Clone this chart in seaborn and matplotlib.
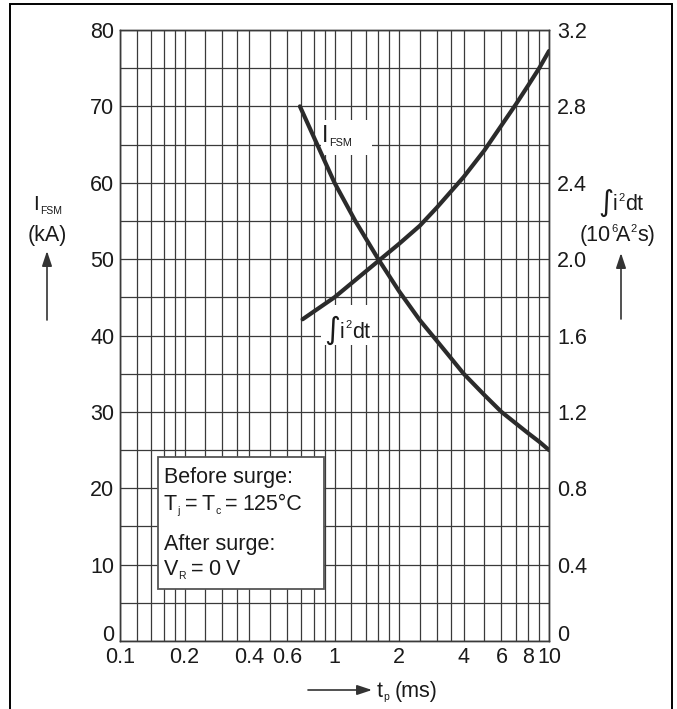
import numpy as np
import pandas as pd
import matplotlib
matplotlib.use("Agg")
import matplotlib.pyplot as plt
import seaborn as sns
from matplotlib.patches import Rectangle

# ---------------- data ----------------
t_ifsm = [0.69, 0.84, 1.0, 1.25, 1.6, 2.0, 2.5, 3.0, 3.5, 4.0, 5.0, 6.0, 7.0, 8.0, 9.0, 10.0]
ifsm_kA = [70.0, 64.7, 60.0, 55.0, 50.0, 45.8, 42.0, 39.3, 37.0, 35.0, 32.2, 30.0, 28.5, 27.2, 26.1, 25.0]

t_i2t = [0.71, 1.0, 1.6, 2.0, 2.5, 3.0, 4.0, 5.0, 6.0, 7.0, 8.0, 9.0, 10.0]
i2t_MA2s = [1.685, 1.80, 1.99, 2.08, 2.175, 2.27, 2.43, 2.57, 2.70, 2.81, 2.91, 3.0, 3.09]

x_grid = [0.1, 0.12, 0.14, 0.16, 0.18, 0.2, 0.25, 0.3, 0.35, 0.4, 0.5, 0.6, 0.7, 0.8, 0.9,
          1, 1.2, 1.4, 1.6, 1.8, 2, 2.5, 3, 3.5, 4, 5, 6, 7, 8, 9, 10]
x_labels = {0.1: "0.1", 0.2: "0.2", 0.4: "0.4", 0.6: "0.6", 1: "1", 2: "2",
            4: "4", 6: "6", 8: "8", 10: "10"}
y_left_grid = list(range(0, 81, 5))
y_left_ticks = list(range(0, 81, 10))
y_left_labels = ["0", "10", "20", "30", "40", "50", "60", "70", "80"]
y_right_ticks = [0, 0.4, 0.8, 1.2, 1.6, 2.0, 2.4, 2.8, 3.2]
y_right_labels = ["0", "0.4", "0.8", "1.2", "1.6", "2.0", "2.4", "2.8", "3.2"]

# ---------------- style ----------------
sns.set_style("white")
plt.rcParams['font.family'] = ['Liberation Sans', 'DejaVu Sans']

W, H = 677, 709
fig = plt.figure(figsize=(W / 100, H / 100), dpi=100)
fig.patch.set_facecolor("white")
renderer = fig.canvas.get_renderer()

L, R, T, B = 120, 549, 30, 641
ax = fig.add_axes([L / W, 1 - B / H, (R - L) / W, (B - T) / H])
ax2 = ax.twinx()

grid_c = "#3a3a3a"
curve_c = "#2b2b2b"
txt_c = "#1a1a1a"
fs = 15.5
sub = 7.5

df1 = pd.DataFrame({"t": t_ifsm, "v": ifsm_kA})
df2 = pd.DataFrame({"t": t_i2t, "v": i2t_MA2s})

sns.lineplot(data=df1, x="t", y="v", ax=ax, color=curve_c, lw=3.0, zorder=5)
sns.lineplot(data=df2, x="t", y="v", ax=ax2, color=curve_c, lw=3.0, zorder=5)

ax.set_xscale("log")
ax.set_xlim(0.1, 10)
ax.set_ylim(0, 80)
ax2.set_ylim(0, 3.2)

for x in x_grid:
    ax.axvline(x, color=grid_c, lw=0.9, zorder=1)
for y in y_left_grid:
    ax.axhline(y, color=grid_c, lw=0.9, zorder=1)

ax.set_xticks(x_grid)
ax.set_xticklabels([x_labels.get(x, "") for x in x_grid])
ax.xaxis.set_minor_locator(matplotlib.ticker.NullLocator())
ax.set_yticks(y_left_ticks)
ax.set_yticklabels(y_left_labels)
ax2.set_yticks(y_right_ticks)
ax2.set_yticklabels(y_right_labels)

ax.tick_params(axis="x", length=0, pad=4, labelsize=fs, colors=txt_c)
ax.tick_params(axis="y", length=0, pad=4, labelsize=fs, colors=txt_c)
ax2.tick_params(axis="y", length=0, pad=6, labelsize=fs, colors=txt_c)
ax.get_yticklabels()[0].set_va("baseline")
ax2.get_yticklabels()[0].set_va("baseline")
ax.set_xlabel("")
ax.set_ylabel("")
ax2.set_ylabel("")

for a in (ax, ax2):
    for s in a.spines.values():
        s.set_color(grid_c)
        s.set_linewidth(1.0)


# ---------------- text helpers (figure pixels, top-left origin) ----------------
def ft(x, y, s, size, parent=None, ha="left", zorder=3, family=None):
    kw = dict(fontsize=size, ha=ha, va="baseline", color=txt_c, zorder=zorder)
    if family:
        kw["family"] = family
    if parent is None:
        return fig.text(x / W, 1 - y / H, s, **kw)
    return parent.text(x / W, 1 - y / H, s, transform=fig.transFigure, **kw)


def chain(x, y, pieces, parent=None, zorder=3):
    """pieces: (text, size, dy, gap_after, family)"""
    cx = x
    for s, size, dy, gap, fam in pieces:
        t = ft(cx, y + dy, s, size, parent=parent, zorder=zorder, family=fam)
        cx += t.get_window_extent(renderer).width + gap
    return cx


INT = ["DejaVu Sans"]

# left axis title
chain(33, 210, [("I", 15, 0, 1, None), ("FSM", sub, 4, 0, None)])
ft(47, 241, "(kA)", fs, ha="center")

# right axis title
chain(598, 211, [("∫", 21, 0, 0, INT), ("i", fs, -1, 0.5, None), ("2", 8, -10, 0.5, None),
                 ("dt", fs, -1, 0, None)])
chain(580, 241, [("(10", fs, 0, 0, None), ("6", 8, -9, -1, None), ("A", fs, 0, 0, None),
                 ("2", 8, -9, 0.5, None), ("s)", fs, 0, 0, None)])

# x axis title
chain(377, 697, [("t", fs, 0, 0, None), ("p", sub, 3, 6, None), ("(ms)", fs, 0, 0, None)])

# in-plot curve labels with white background (below the curves)
ax.add_patch(Rectangle((321 / W, 1 - 155 / H), 51 / W, 35 / H, transform=fig.transFigure,
                       facecolor="white", edgecolor="none", zorder=2))
chain(322, 142, [("I", 16.5, 0, 1, None), ("FSM", 7.8, 4.5, 0, None)], parent=ax, zorder=3)

ax.add_patch(Rectangle((321 / W, 1 - 345 / H), 51 / W, 40 / H, transform=fig.transFigure,
                       facecolor="white", edgecolor="none", zorder=2))
chain(324, 339, [("∫", 22, 0, 0, INT), ("i", fs, -1, 0.5, None), ("2", 8, -11, 0.5, None),
                 ("dt", fs, -1, 0, None)], parent=ax, zorder=3)

# condition box
ax.add_patch(Rectangle((157.5 / W, 1 - 588.5 / H), (323.5 - 157.5) / W, (588.5 - 456.5) / H,
                       transform=fig.transFigure, facecolor="white", edgecolor="#555555",
                       lw=1.3, zorder=2))
ft(164, 483.5, "Before surge:", fs, parent=ax, zorder=3)
chain(164, 510, [("T", fs, 0, 0, None), ("j", sub, 4, 5, None), ("=", fs, 0, 5, None),
                 ("T", fs, 0, 0, None), ("c", sub, 4, 5, None), ("=", fs, 0, 5, None),
                 ("125°C", fs, 0, 0, None)], parent=ax)
ft(164, 550, "After surge:", fs, parent=ax, zorder=3)
chain(164, 575, [("V", fs, 0, 0, None), ("R", sub, 4, 5, None), ("=", fs, 0, 5, None),
                 ("0", fs, 0, 5, None), ("V", fs, 0, 0, None)], parent=ax)

# arrows
arrow = dict(arrowstyle="-|>,head_length=0.9,head_width=0.3", color="#333333", lw=1.2,
             shrinkA=0, shrinkB=0)


def fp(x, y):
    return (x / W, 1 - y / H)


for (x0, y0), (x1, y1) in [((47, 320), (47, 251)), ((621, 319), (621, 253)),
                           ((308, 690), (372, 690))]:
    ax.annotate("", xy=fp(x1, y1), xytext=fp(x0, y0), xycoords="figure fraction",
                textcoords="figure fraction", arrowprops=arrow, annotation_clip=False)

# outer frame
fig.add_artist(Rectangle((10 / W, -0.05), (672 - 10) / W, 1.05 - 4 / H,
                         transform=fig.transFigure, fill=False, edgecolor="black", lw=1.4))

fig.savefig("out.png", dpi=100)
